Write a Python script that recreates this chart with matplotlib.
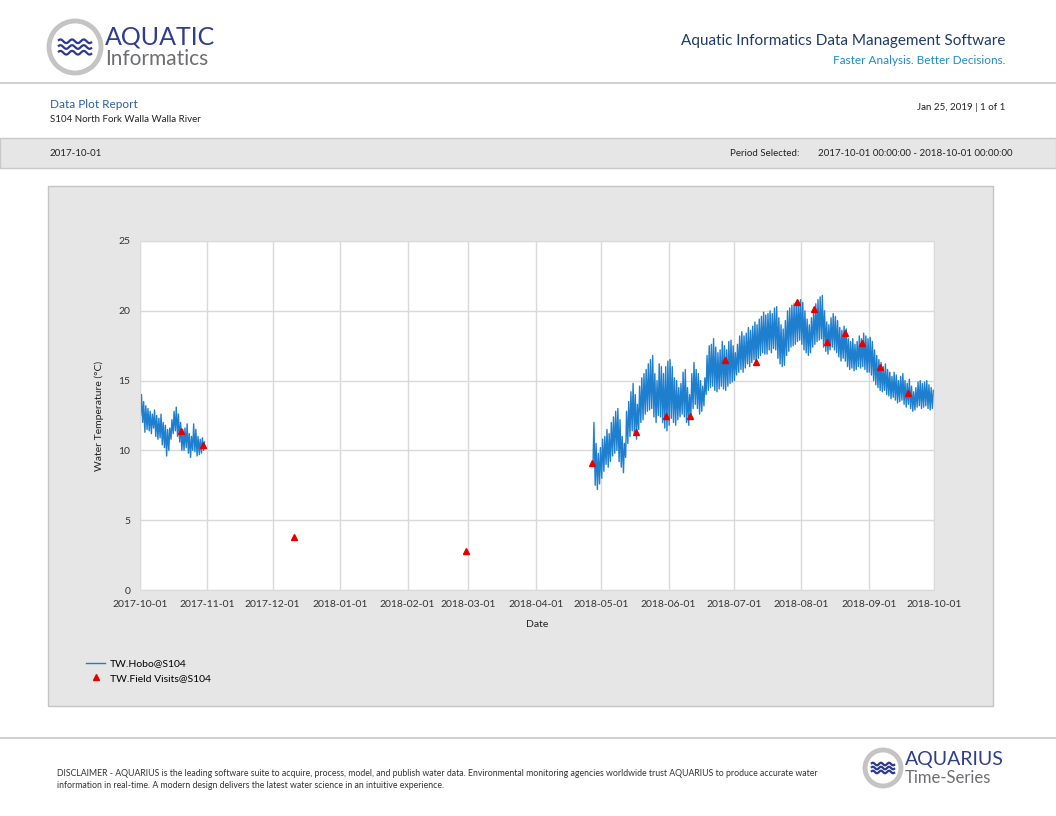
import numpy as np
import pandas as pd
import matplotlib
matplotlib.use("Agg")
import matplotlib.pyplot as plt
import matplotlib.dates as mdates
from matplotlib.patches import Circle, Rectangle

plt.rcParams['font.family'] = ['Lato', 'DejaVu Sans']

# Dane: dzienne maksima / minima temperatury (TW.Hobo@S104)
jesien_start = "2017-10-01"
jesien_max = [14.0, 13.5, 13.2, 13.0, 12.8, 12.6, 12.9, 12.5, 12.3, 12.6,
              12.0, 11.8, 11.5, 11.6, 12.2, 12.8, 13.1, 12.6, 12.0, 11.5,
              11.6, 11.9, 11.2, 11.0, 11.9, 11.5, 11.0, 10.8, 10.9, 10.6]
jesien_min = [12.5, 12.0, 11.3, 11.5, 11.4, 11.2, 11.6, 11.0, 10.8, 10.9,
              10.4, 10.2, 9.6, 10.0, 10.8, 11.2, 11.4, 11.0, 10.6, 10.0,
              10.0, 10.2, 9.8, 9.5, 10.0, 9.9, 9.6, 9.7, 9.8, 10.0]

lato_start = "2018-04-27"
lato_max = [12.0, 10.5, 9.8, 10.2,
            10.8, 11.0, 11.5, 11.2, 12.0, 12.4, 12.8, 13.0, 12.2, 11.0,
            10.5, 12.8, 13.5, 14.2, 14.8, 14.0, 13.3, 14.6, 15.2, 15.5,
            15.8, 16.2, 16.5, 16.8, 15.5, 15.0, 16.2, 16.0, 15.5, 16.0, 16.4,
            16.5, 16.0, 15.2, 15.0, 14.5, 14.8, 15.6, 15.8, 14.5, 14.0,
            15.5, 16.3, 15.8, 15.5, 15.0, 14.6, 15.2, 16.8, 17.5, 17.6,
            18.0, 17.4, 17.0, 17.2, 17.8, 17.5, 17.2, 17.8, 17.9, 17.5,
            17.0, 17.6, 18.2, 18.5, 18.2, 18.4, 18.8, 18.6, 18.9, 19.2,
            19.0, 19.4, 19.6, 19.9, 19.7, 19.8, 20.0, 19.8, 20.2, 20.3,
            19.5, 19.0, 18.7, 19.3, 20.0, 20.2, 20.4, 20.5, 20.6, 20.7, 20.8,
            20.6, 20.0, 19.4, 19.0, 19.5, 20.0, 20.5, 20.8, 21.0, 21.1,
            20.0, 19.2, 19.0, 19.5, 19.8, 19.6, 19.3, 18.8, 18.6, 18.9,
            18.7, 18.0, 17.8, 18.0, 17.6, 17.8, 18.2, 18.0, 18.4, 18.2, 18.0,
            18.1, 17.8, 17.2, 16.8, 16.5, 16.3, 16.0, 16.2, 15.8, 15.6,
            15.3, 15.6, 15.4, 15.0, 15.3, 15.5, 15.0, 14.8, 15.1, 14.6,
            14.2, 14.5, 14.9, 15.0, 14.8, 14.9, 15.0, 14.7, 14.5, 14.3]
lato_min = [9.0, 7.5, 7.2, 7.6,
            8.0, 8.5, 9.0, 8.8, 9.2, 9.6, 9.8, 10.0, 9.2, 8.8,
            8.4, 9.5, 10.5, 11.0, 11.4, 11.2, 10.8, 11.5, 12.0, 12.2,
            12.6, 12.8, 12.9, 13.0, 12.4, 12.0, 12.5, 12.4, 12.0, 11.6, 11.4,
            11.8, 12.3, 12.0, 11.8, 12.2, 12.4, 12.6, 12.4, 12.0, 11.8,
            12.5, 13.0, 13.3, 13.0, 12.6, 12.8, 13.2, 14.0, 14.3, 14.5,
            14.6, 14.3, 14.2, 14.4, 14.6, 14.4, 14.3, 14.6, 14.8, 14.9,
            15.0, 15.4, 15.6, 15.8, 15.6, 15.9, 16.2, 16.0, 16.3, 16.5,
            16.3, 16.6, 16.8, 17.0, 16.9, 16.9, 17.2, 17.0, 17.3, 17.2,
            16.6, 16.2, 16.0, 16.1, 16.8, 17.1, 17.4, 17.5, 17.6, 17.8, 17.9,
            17.6, 17.2, 17.0, 16.8, 17.0, 17.4, 17.6, 17.8, 17.9, 18.0,
            17.4, 17.1, 16.9, 17.2, 17.4, 17.2, 17.0, 16.7, 16.4, 16.6,
            16.4, 16.0, 15.8, 15.9, 15.7, 15.8, 16.0, 15.9, 16.0, 15.8, 15.6,
            15.6, 15.4, 15.0, 14.7, 14.5, 14.3, 14.2, 14.3, 14.0, 13.9,
            13.7, 13.8, 13.6, 13.4, 13.5, 13.6, 13.3, 13.1, 13.3, 13.0,
            12.8, 12.9, 13.1, 13.2, 13.0, 13.1, 13.2, 13.0, 12.9, 13.0]

# Wizyty terenowe (TW.Field Visits@S104)
wizyty_daty = ["2017-10-20", "2017-10-30", "2017-12-11", "2018-02-28",
               "2018-04-27", "2018-05-17", "2018-05-31", "2018-06-11",
               "2018-06-27", "2018-07-11", "2018-07-30", "2018-08-07",
               "2018-08-13", "2018-08-21", "2018-08-29", "2018-09-06",
               "2018-09-19"]
wizyty_temp = [11.4, 10.4, 3.8, 2.8, 9.1, 11.3, 12.5, 12.5, 16.5, 16.3,
               20.6, 20.1, 17.8, 18.4, 17.7, 16.0, 14.1]


def seria(start, maks, mins):
    # min rano, max po poludniu - kazdy dzien dwa punkty
    dni = pd.date_range(start, periods=len(maks), freq="D")
    t, v = [], []
    for d, hi, lo in zip(dni, maks, mins):
        t += [d + pd.Timedelta(hours=6), d + pd.Timedelta(hours=16)]
        v += [lo, hi]
    return t, v


t1, v1 = seria(jesien_start, jesien_max, jesien_min)
t2, v2 = seria(lato_start, lato_max, lato_min)

W, H = 1056, 816
fig = plt.figure(figsize=(W / 100, H / 100), dpi=100)


def fx(x):
    return x / W


def fy(y):
    return 1 - y / H


def logo(cx, cy, r, top, bottom, top_size, bottom_size, dy):
    ax = fig.add_axes([0, 0, 1, 1], zorder=5)
    ax.set_xlim(0, W)
    ax.set_ylim(H, 0)
    ax.axis("off")
    ax.add_patch(Circle((cx, cy), r, facecolor="white", edgecolor="#c4c4c4", lw=3.5))
    xs = np.linspace(cx - r * 0.62, cx + r * 0.62, 60)
    for k in (-1, 0, 1):
        ax.plot(xs, cy + k * r * 0.22 + r * 0.07 * np.sin((xs - cx) / r * 14),
                color="#2b3a8f", lw=1.6)
    fig.text(fx(cx + r + 4), fy(cy - dy), top, fontsize=top_size, color="#2e3d8f",
             va="center", ha="left")
    fig.text(fx(cx + r + 4), fy(cy + dy + 2), bottom, fontsize=bottom_size, color="#6d6e71",
             va="center", ha="left")


# Naglowek
logo(75, 47, 26, "AQUATIC", "Informatics", 18, 15, 10)
fig.text(fx(1005), fy(41), "Aquatic Informatics Data Management Software",
         fontsize=11, color="#1f3a68", ha="right", va="center")
fig.text(fx(1005), fy(60), "Faster Analysis. Better Decisions.",
         fontsize=8.5, color="#1e8ac8", ha="right", va="center")
fig.add_artist(plt.Line2D([0, 1], [fy(83), fy(83)], color="#c8c8c8", lw=1.2))

fig.text(fx(50), fy(104), "Data Plot Report", fontsize=8.5, color="#2a5fa0", va="center")
fig.text(fx(50), fy(119), "S104 North Fork Walla Walla River", fontsize=7, color="#222222",
         va="center")
fig.text(fx(1005), fy(107), "Jan 25, 2019 | 1 of 1", fontsize=7, color="#222222",
         ha="right", va="center")

fig.add_artist(Rectangle((0, fy(168)), 1, fy(138) - fy(168), transform=fig.transFigure,
                         facecolor="#e6e6e6", edgecolor="#c8c8c8", lw=1))
fig.text(fx(50), fy(153), "2017-10-01", fontsize=7, color="#222222", va="center")
fig.text(fx(730), fy(153), "Period Selected:", fontsize=7, color="#222222", va="center")
fig.text(fx(818), fy(153), "2017-10-01 00:00:00 - 2018-10-01 00:00:00", fontsize=7,
         color="#222222", va="center")

# Panel wykresu
fig.add_artist(Rectangle((fx(48), fy(706)), fx(993) - fx(48), fy(186) - fy(706),
                         transform=fig.transFigure, facecolor="#e6e6e6",
                         edgecolor="#c4c4c4", lw=1))

ax = fig.add_axes([fx(140), fy(590), fx(934) - fx(140), fy(241) - fy(590)], zorder=3)
ax.set_facecolor("white")
hobo, = ax.plot(t1, v1, color="#1f7fcf", lw=1.0, label="TW.Hobo@S104")
ax.plot(t2, v2, color="#1f7fcf", lw=1.0)
wiz, = ax.plot(pd.to_datetime(wizyty_daty), wizyty_temp, "^", color="#e60000",
               markersize=5, linestyle="none", label="TW.Field Visits@S104")

ax.set_xlim(pd.Timestamp("2017-10-01"), pd.Timestamp("2018-10-01"))
ax.set_ylim(0, 25)
ax.set_yticks([0, 5, 10, 15, 20, 25])
ax.xaxis.set_major_locator(mdates.MonthLocator())
ax.xaxis.set_major_formatter(mdates.DateFormatter("%Y-%m-%d"))
ax.grid(True, color="#d9d9d9", lw=1)
ax.set_axisbelow(True)
for s in ax.spines.values():
    s.set_color("#d9d9d9")
ax.tick_params(length=0, labelsize=7.5, labelcolor="#333333", pad=7)
ax.set_xlabel("Date", fontsize=7.5, color="#222222", labelpad=8)
ax.set_ylabel("Water Temperature (°C)", fontsize=7.5, color="#222222", labelpad=10)

fig.legend([hobo, wiz], ["TW.Hobo@S104", "TW.Field Visits@S104"],
           loc="upper left", bbox_to_anchor=(fx(82), fy(655)), frameon=False,
           fontsize=7.5, handlelength=1.8, handletextpad=0.5, labelspacing=0.5,
           borderaxespad=0)

# Stopka
fig.add_artist(plt.Line2D([0, 1], [fy(738), fy(738)], color="#c8c8c8", lw=1.2))
fig.text(fx(57), fy(773),
         "DISCLAIMER - AQUARIUS is the leading software suite to acquire, process, model, and "
         "publish water data. Environmental monitoring agencies worldwide trust AQUARIUS to "
         "produce accurate water", fontsize=6.3, color="#333333", va="center")
fig.text(fx(57), fy(785),
         "information in real-time. A modern design delivers the latest water science in an "
         "intuitive experience.", fontsize=6.3, color="#333333", va="center")
logo(883, 768, 18, "AQUARIUS", "Time-Series", 14, 12, 8)

fig.savefig("out.png", dpi=100)
